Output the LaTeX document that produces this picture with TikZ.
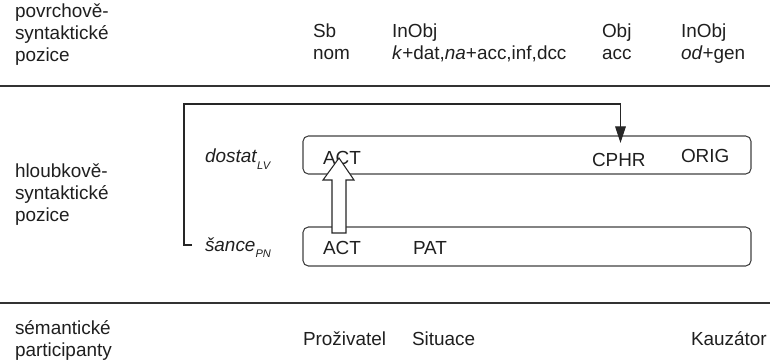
\documentclass[tikz,border=0pt]{standalone}
\usepackage{fontspec}
\setmainfont{Liberation Sans}
\usetikzlibrary{arrows.meta,calc}
\newcommand{\lsub}[2]{\raisebox{-#1}{\fontsize{8.3}{10}\selectfont\itshape #2}}
\begin{document}
\begin{tikzpicture}[x=0.75pt,y=-0.75pt,
  every node/.style={inner sep=0pt,outer sep=0pt,text=black!88,
    font=\fontsize{14.2}{16.5}\selectfont},
  lbl/.style={anchor=base west},
  block/.style={anchor=north west,align=left},
  rule/.style={draw=black!80,line width=1.5pt},
  frame/.style={draw=black!75,line width=0.8pt,rounded corners=4pt},
  link/.style={draw=black!85,line width=0.8pt},
  hollow/.style={draw=black!85,line width=0.8pt,fill=white}]
\useasboundingbox (0,0) rectangle (770,363);

% surface-syntactic row
\node[block] (lev1) at (15,4) {povrchově-\\syntaktické\\pozice};
\node[block] (sb) at (313,24) {Sb\\nom};
\node[block] (inobj1) at (392,24) {InObj\\\textit{k}+dat,\textit{na}+acc,inf,dcc};
\node[block] (obj) at (602,24) {Obj\\acc};
\node[block] (inobj2) at (681,24) {InObj\\\textit{od}+gen};

\draw[rule] (0,86) -- (770,86);

% deep-syntactic row (box sizes in pt: 448 x 38 px)
\node[block] (lev2) at (15,164) {hloubkově-\\syntaktické\\pozice};
\node[frame,minimum width=336pt,minimum height=28.5pt] (upper) at (527,155) {};
\node[frame,minimum width=336pt,minimum height=29.2pt] (lower) at (527,246.5) {};
\node[lbl] (dostat) at (205,163) {\textit{dostat}\lsub{5pt}{LV}};
\node[lbl] (sance) at (205,252) {\textit{šance}\lsub{4pt}{PN}};
\node[lbl] (act1) at (323,165) {ACT};
\node[lbl] (cphr) at (592,167) {CPHR};
\node[lbl] (orig) at (681,163) {ORIG};
\node[lbl] (act2) at (323,254) {ACT};
\node[lbl] (pat) at (413,254) {PAT};

% bracket from the noun to the verb's CPHR slot
\coordinate (brk) at (192,245);
\coordinate (tip) at (620.5,143);
\draw[link,-{Triangle[length=12.5pt,width=8pt]}]
  (brk) -- (184,245) -- (184,104) -- (tip |- 0,104) -- (tip);

% hollow arrow: ACT of the noun shared by the verb
\coordinate (hb) at (339,233);
\coordinate (ht) at (339,158);
\draw[hollow] ($(hb)+(-7,0)$) -- ++(0,-53) -- ++(-9,0) -- (ht) -- (354,180)
  -- ++(-8,0) -- ++(0,53) -- cycle;

\draw[rule] (0,303) -- (770,303);

% semantic participants row
\node[block] (lev3) at (15,321) {sémantické\\participanty};
\node[lbl] (prozivatel) at (303,345) {Proživatel};
\node[lbl] (situace) at (412,345) {Situace};
\node[lbl] (kauzator) at (691,345) {Kauzátor};
\end{tikzpicture}
\end{document}
